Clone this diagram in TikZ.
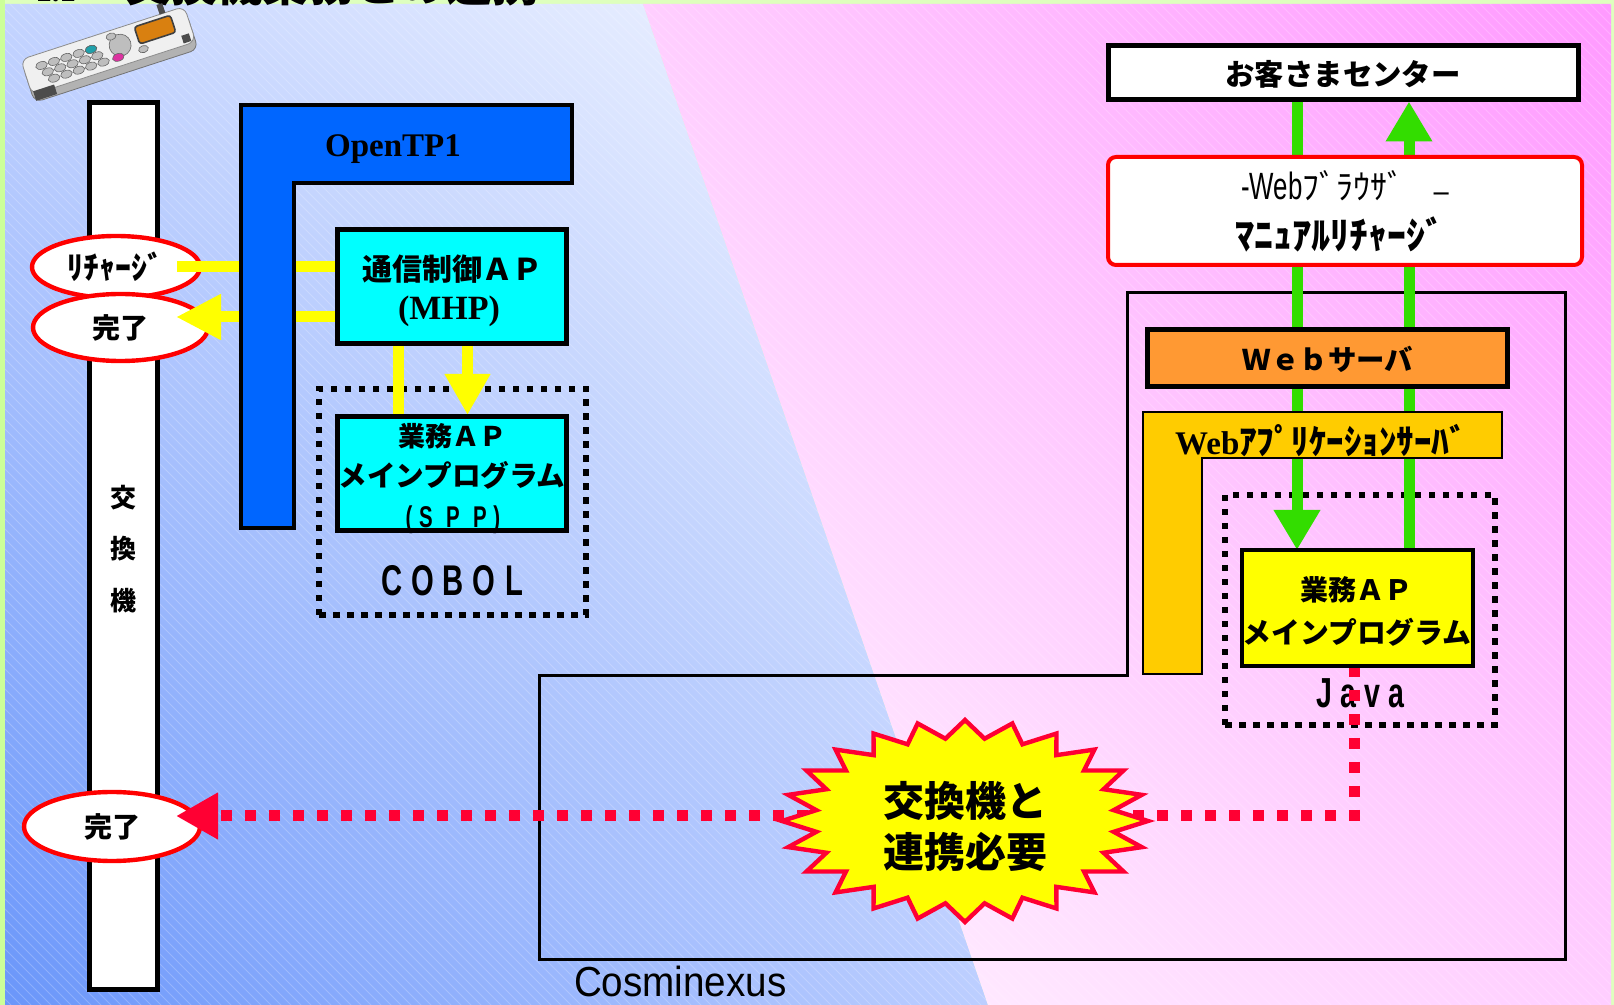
\documentclass[tikz,border=0pt]{standalone}
\usepackage{fontspec}
\usepackage{graphicx}
\usetikzlibrary{shapes.geometric,arrows.meta,calc,shadings}
\newfontfamily\jp{Noto Sans CJK JP}
\newfontfamily\tnr{Liberation Serif}
\newfontfamily\narrowsans{Liberation Sans}[FakeStretch=0.68]
\newfontfamily\cosmfont{Liberation Sans}[FakeStretch=0.92]
\newcommand\fs[1]{\fontsize{#1}{#1}\selectfont}
\newcommand\cell[2]{\makebox[#1][c]{#2}}

\definecolor{pagegreen}{RGB}{222,255,190}
\definecolor{edgegreen}{RGB}{204,255,153}
\definecolor{blueUL}{RGB}{196,212,255}
\definecolor{blueUR}{RGB}{246,248,255}
\definecolor{blueLL}{RGB}{106,150,250}
\definecolor{blueLR}{RGB}{188,206,255}
\definecolor{pinkUL}{RGB}{255,206,255}
\definecolor{pinkUR}{RGB}{255,153,255}
\definecolor{pinkLL}{RGB}{255,246,255}
\definecolor{pinkLR}{RGB}{255,206,255}
\definecolor{tpblue}{RGB}{0,102,255}
\definecolor{apcyan}{RGB}{0,255,255}
\definecolor{sigyellow}{RGB}{255,255,0}
\definecolor{linkgreen}{RGB}{51,221,0}
\definecolor{alertred}{RGB}{255,0,51}
\definecolor{ovalred}{RGB}{255,0,0}
\definecolor{websrvorange}{RGB}{255,153,51}
\definecolor{appsrvgold}{RGB}{255,204,0}
\definecolor{screenorange}{RGB}{217,128,16}
\definecolor{keygrey}{RGB}{190,190,190}
\definecolor{keyteal}{RGB}{32,160,170}
\definecolor{keypink}{RGB}{220,50,160}

\pgfdeclarelayer{bg}
\pgfdeclarelayer{wires}
\pgfsetlayers{bg,wires,main}

\tikzset{
  plainbox/.style={draw=black, inner sep=0, outer sep=0},
  oval/.style={ellipse, draw=ovalred, line width=2.2pt, fill=white, inner sep=0},
  dotbox/.style={draw=black, line width=3.25pt, dash pattern=on 3.25pt off 3.75pt,
                 inner sep=0},
  sig/.style={draw=sigyellow, line width=5.5pt},
  link/.style={draw=linkgreen, line width=5.5pt},
  alertline/.style={draw=alertred, line width=5.5pt, dash pattern=on 5.5pt off 6.5pt},
  txt/.style={inner sep=0, outer sep=0},
  phonekey/.style={draw=black!60, line width=0.3pt},
}

\begin{document}
\begin{tikzpicture}[x=0.5pt, y=-0.5pt]
\useasboundingbox (0,0) rectangle (1614,1005);

% ---------------- background ----------------
\begin{pgfonlayer}{bg}
\fill[pagegreen] (0,0) rectangle (1614,1005);
\fill[edgegreen] (0,0) rectangle (5,1005);
\shade[upper left=blueUL, upper right=blueUR, lower left=blueLL, lower right=blueLR]
  (5,4) -- (643,4) -- (988,1005) -- (5,1005) -- cycle;
\shade[upper left=pinkUL, upper right=pinkUR, lower left=pinkLL, lower right=pinkLR]
  (643,4) -- (1611,4) -- (1611,1005) -- (988,1005) -- cycle;
\begin{scope}
  \clip (5,4) rectangle (1611,1005);
  \foreach \k in {-1000,-990,...,1610}
    \draw[white, opacity=0.22, line width=0.5pt] (\k,4) -- ++(1001,1001);
\end{scope}

% heading (runs off the top edge)
\node[txt, anchor=base west, font=\jp\bfseries\fs{13}] (titlenum) at (36,2) {1.1};
\node[txt, anchor=base west, font=\jp\bfseries\fs{23}] (title) at (125,2) {交換機業務との連携};

% Cosminexus frame
\draw[line width=1.5pt] (1127,293) -- (1565,293) -- (1565,959) -- (539,959)
  -- (539,676) -- (1127,676) -- cycle;
\node[txt, anchor=base west, font=\cosmfont\fs{21}] (cosmo) at (574,996) {Cosminexus};

% handset
\begin{scope}[shift={(109,53)}, rotate=18]
  \filldraw[fill=black!30, draw=black!55, line width=0.4pt, rounded corners=4pt]
    (-86,-14) rectangle (86,24);
  \filldraw[fill=black!6, draw=black!45, line width=0.4pt, rounded corners=4pt]
    (-86,-21) rectangle (86,16);
  \fill[black!70] (-84,13) rectangle (-62,23);
  \fill[black!70] (60,-31) -- (66,-31) -- (66,-21) -- (60,-21) -- cycle;
  \fill[black!70] (74,6) rectangle (82,14);
  \filldraw[fill=screenorange, draw=black!75, line width=0.8pt, rounded corners=1.5pt]
    (32,-17) rectangle (70,1);
  \filldraw[phonekey, fill=keygrey] (13,-4) circle (11);
  \filldraw[phonekey, fill=keygrey] (7,-15) ellipse (5 and 3.5);
  \filldraw[phonekey, fill=keygrey] (34,7) ellipse (5 and 3.5);
  \foreach \i in {0,...,4}
    \foreach \j in {0,1,2}
      \filldraw[phonekey, fill=keygrey] (-68+13*\i+4*\j,-9+8*\j) ellipse (6 and 3.8);
  \filldraw[phonekey, fill=keyteal] (-16,-9) ellipse (6 and 3.8);
  \filldraw[phonekey, fill=keypink] (7.5,7) ellipse (6 and 3.8);
\end{scope}

% exchange column
\node[plainbox, line width=2.5pt, fill=white, minimum width=34pt, minimum height=443.5pt]
  (exch) at (123.5,546) {};
\node[txt, align=center, font=\jp\bfseries\fontsize{13}{25.75}\selectfont]
  (exchlbl) at (123,549) {交\\換\\機};

% message ovals on the exchange
\node[oval, minimum width=84pt, minimum height=31pt, font=\jp\bfseries\fs{16}]
  (rech) at (116,267) {ﾘﾁｬｰｼﾞ};
\node[oval, minimum width=87.5pt, minimum height=33.5pt, font=\jp\bfseries\fs{14}]
  (done1) at (120.5,327.5) {完了};
\node[oval, minimum width=88pt, minimum height=34.5pt, font=\jp\bfseries\fs{14}]
  (done2) at (112,826.5) {完了};

% language frames
\node[dotbox, minimum width=133.5pt, minimum height=113pt] (cobolbox) at (452.5,502) {};
\node[txt, anchor=base, font=\narrowsans\bfseries\fs{21.5}] (cobol) at (453,596)
  {\cell{15.3pt}{C}\cell{15.3pt}{O}\cell{15.3pt}{B}\cell{15.3pt}{O}\cell{15.3pt}{L}};
\node[dotbox, minimum width=135pt, minimum height=115pt] (javabox) at (1360,610) {};
\node[txt, anchor=base, font=\narrowsans\bfseries\fs{21}] (javalang) at (1360,708)
  {\cell{12pt}{J}\cell{12pt}{a}\cell{12pt}{v}\cell{12pt}{a}};
\end{pgfonlayer}

% ---------------- OpenTP1 side ----------------
\draw[fill=tpblue, line width=2pt] (241,105) -- (572,105) -- (572,183) -- (294,183)
  -- (294,528) -- (241,528) -- cycle;
\node[txt, font=\tnr\bfseries\fs{16.5}] (opentp) at (393,149) {OpenTP1};

\node[plainbox, line width=2.5pt, fill=apcyan, minimum width=114.5pt, minimum height=57pt]
  (comm) at (452,286.5) {};
\node[txt, font=\jp\bfseries\fs{15}] (commlbl) at (452,269) {通信制御ＡＰ};
\node[txt, font=\tnr\bfseries\fs{17}] (commsub) at (449,311) {(MHP)};

\node[plainbox, line width=2.5pt, fill=apcyan, minimum width=114.5pt, minimum height=57pt]
  (spp) at (452,474) {};
\node[txt, font=\jp\bfseries\fs{13.5}] (spplbl) at (452,436) {業務ＡＰ};
\node[txt, font=\jp\bfseries\fs{14.3}] (sppmain) at (452,475) {メインプログラム};
\node[txt, anchor=base, font=\narrowsans\bfseries\fs{15}] (sppsub) at (453,528)
  {(\cell{13.5pt}{S}\cell{13.5pt}{P}\cell{13.5pt}{P})};

% ---------------- Cosminexus side ----------------
\node[plainbox, line width=2.5pt, fill=white, minimum width=235pt, minimum height=27pt]
  (center) at (1343.5,72.5) {};
\node[txt, font=\jp\bfseries\fs{14.7}] (centerlbl) at (1343,74) {お客さまセンター};

\node[plainbox, draw=ovalred, line width=2pt, rounded corners=4pt, fill=white,
  minimum width=237pt, minimum height=54pt] (browser) at (1345,211) {};
\node[txt, font=\jp\fs{17}] (browserlbl) at (1346,187)
  {{\narrowsans\fs{19}-Web}ﾌﾞﾗｳｻﾞ\hspace{14pt}\raisebox{-2pt}{–}};
\node[txt, font=\jp\bfseries\fs{19}] (manual) at (1340,234) {ﾏﾆｭｱﾙﾘﾁｬｰｼﾞ};

\node[plainbox, line width=2.5pt, fill=websrvorange, minimum width=180pt, minimum height=28.5pt]
  (websrv) at (1327.5,358) {};
\node[txt, font=\jp\bfseries\fs{14.2}] (websrvlbl) at (1328,359) {Ｗｅｂサーバ};

\draw[fill=appsrvgold, line width=0.75pt] (1143,412) -- (1502,412) -- (1502,458)
  -- (1202,458) -- (1202,674) -- (1143,674) -- cycle;
\node[txt] (applbl) at (1321,441)
  {{\tnr\bfseries\fs{16.5}Web}{\jp\bfseries\fs{17.5}ｱﾌﾟﾘｹｰｼｮﾝｻｰﾊﾞ}};

\node[plainbox, line width=2pt, fill=sigyellow, minimum width=115.5pt, minimum height=58pt]
  (javaap) at (1357.5,608) {};
\node[txt, font=\jp\bfseries\fs{14}] (javalbl) at (1356,590) {業務ＡＰ};
\node[txt, font=\jp\bfseries\fs{14.4}] (javamain) at (1357,632) {メインプログラム};

% warning burst
\begin{scope}[shift={(965,821)}]
  \filldraw[fill=sigyellow, draw=alertred, line width=2.2pt, line join=miter]
    (183,0) \foreach \i in {0,...,23} {
      -- ({150*cos(\i*15+7.5)},{83*sin(\i*15+7.5)})
      -- ({183*cos(\i*15+15)},{101*sin(\i*15+15)}) } -- cycle;
\end{scope}
\node[txt, align=center, font=\jp\bfseries\fontsize{20.5}{25.5}\selectfont]
  (burst) at (965,826) {交換機と\\連携必要};

% ---------------- connectors ----------------
\coordinate (rechend) at (177,267);
\coordinate (done1tip) at (176,317);
\coordinate (done2tip) at (176,816);
\coordinate (gl) at (1297,0);
\coordinate (gr) at (1409,0);
\begin{pgfonlayer}{wires}
  % OpenTP1 signalling
  \draw[sig] (rechend) -- (rechend -| comm.west);
  \draw[sig, -{Triangle[length=22.5pt, width=21.5pt]}] (done1tip -| comm.west) -- (done1tip);
  \draw[sig] ($(comm.south)+(-54,0)$) -- ($(spp.north)+(-54,0)$);
  \draw[sig, -{Triangle[length=20.5pt, width=21.5pt]}]
    ($(comm.south)+(15.5,0)$) -- ($(spp.north)+(15.5,-2)$);
  % web traffic
  \draw[link, -{Triangle[length=20pt, width=22pt]}] (gl |- center.south) -- (gl |- javaap.north);
  \draw[link, -{Triangle[length=20pt, width=22pt]}] (gr |- javaap.north) -- ([yshift=-1pt]gr |- center.south);
  % missing notification to the exchange
  \draw[alertline, -{Triangle[length=21pt, width=22pt]}]
    ($(javaap.south)+(-3.5,0)$) |- (done2tip);
\end{pgfonlayer}
\end{tikzpicture}
\end{document}
